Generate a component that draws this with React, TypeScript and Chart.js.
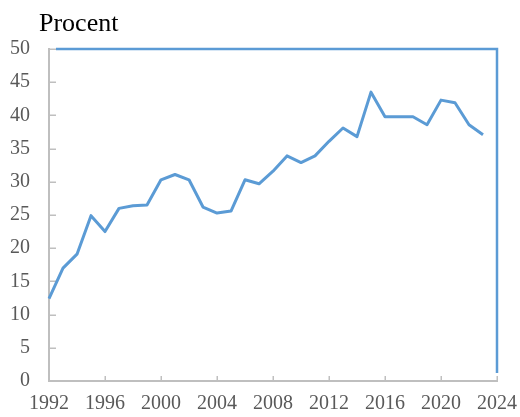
import React, { useEffect, useRef } from "react";
import { Chart, registerables } from "chart.js";

Chart.register(...registerables);

const years = [
  1992, 1993, 1994, 1995, 1996, 1997, 1998, 1999, 2000, 2001, 2002, 2003, 2004, 2005, 2006, 2007,
  2008, 2009, 2010, 2011, 2012, 2013, 2014, 2015, 2016, 2017, 2018, 2019, 2020, 2021, 2022, 2023,
];
const shareValues = [
  12.4, 17.0, 19.1, 24.9, 22.5, 26.0, 26.4, 26.5, 30.3, 31.1, 30.3, 26.2, 25.3, 25.6, 30.3, 29.7,
  31.6, 33.9, 32.9, 33.9, 36.1, 38.1, 36.8, 43.5, 39.8, 39.8, 39.8, 38.6, 42.3, 41.9, 38.6, 37.1,
];
const frameYears = [1992.5, 2024, 2024];
const frameValues = [50, 50, 1.2];
const xMin = 1992;
const xMax = 2024;
const xStep = 4;
const yMin = 0;
const yMax = 50;
const yStep = 5;
const titleText = "Procent";

const BLUE = "#5b9bd5";
const AXIS = "#bfbfbf";
const LABEL = "#595959";
const FONT = "'Liberation Serif', 'Times New Roman', serif";

const innerTicks = {
  id: "innerTicks",
  beforeDatasetsDraw(chart: any) {
    const { ctx, chartArea, scales } = chart;
    ctx.save();
    ctx.strokeStyle = AXIS;
    ctx.lineWidth = 1.5;
    scales.y.ticks.forEach((t: any) => {
      if (t.value === yMin) return;
      const py = Math.round(scales.y.getPixelForValue(t.value)) + 0.25;
      ctx.beginPath();
      ctx.moveTo(chartArea.left, py);
      ctx.lineTo(chartArea.left + 7, py);
      ctx.stroke();
    });
    scales.x.ticks.forEach((t: any) => {
      if (t.value === xMin) return;
      const px = Math.round(scales.x.getPixelForValue(t.value)) + 0.25;
      ctx.beginPath();
      ctx.moveTo(px, chartArea.bottom);
      ctx.lineTo(px, chartArea.bottom - 5);
      ctx.stroke();
    });
    ctx.restore();
  },
  afterDraw(chart: any) {
    const { ctx, chartArea } = chart;
    ctx.save();
    ctx.fillStyle = "#000000";
    ctx.font = `26px ${FONT}`;
    ctx.textAlign = "left";
    ctx.textBaseline = "alphabetic";
    ctx.fillText(titleText, chartArea.left - 10, chartArea.top - 18);
    ctx.restore();
  },
};

export default function App() {
  const canvasRef = useRef<HTMLCanvasElement | null>(null);

  useEffect(() => {
    document.body.style.margin = "0";
    const canvas = canvasRef.current;
    if (!canvas) return;
    const chart = new Chart(canvas, {
      type: "line",
      data: {
        datasets: [
          {
            data: years.map((y, i) => ({ x: y, y: shareValues[i] })),
            borderColor: BLUE,
            borderWidth: 3,
            pointRadius: 0,
            tension: 0,
            borderJoinStyle: "round",
            clip: false as any,
          },
          {
            data: frameYears.map((y, i) => ({ x: y, y: frameValues[i] })),
            borderColor: BLUE,
            borderWidth: 2.5,
            pointRadius: 0,
            tension: 0,
            clip: false as any,
          },
        ],
      },
      options: {
        responsive: false,
        animation: false,
        layout: { padding: { top: 49, right: 23, bottom: 0, left: 0 } },
        plugins: {
          legend: { display: false },
          tooltip: { enabled: false },
          title: { display: false },
        },
        scales: {
          x: {
            type: "linear",
            min: xMin,
            max: xMax,
            afterFit(scale: any) {
              scale.height = 36;
              scale.paddingLeft = 0;
              scale.paddingRight = 0;
            },
            ticks: {
              stepSize: xStep,
              color: LABEL,
              font: { family: FONT, size: 20 },
              padding: 11,
              maxRotation: 0,
              autoSkip: false,
              callback: (v: any) => String(v),
            },
            grid: { display: true, drawOnChartArea: false, drawTicks: false },
            border: { color: AXIS, width: 2 },
          },
          y: {
            type: "linear",
            min: yMin,
            max: yMax,
            afterFit(scale: any) {
              scale.width = 49;
              scale.paddingTop = 0;
              scale.paddingBottom = 0;
            },
            ticks: {
              stepSize: yStep,
              color: LABEL,
              font: { family: FONT, size: 20 },
              padding: 19,
            },
            grid: { display: true, drawOnChartArea: false, drawTicks: false },
            border: { color: AXIS, width: 2 },
          },
        },
      },
      plugins: [innerTicks],
    });
    return () => chart.destroy();
  }, []);

  return (
    <div style={{ width: 520, height: 417 }}>
      <canvas ref={canvasRef} width={520} height={417} />
    </div>
  );
}
